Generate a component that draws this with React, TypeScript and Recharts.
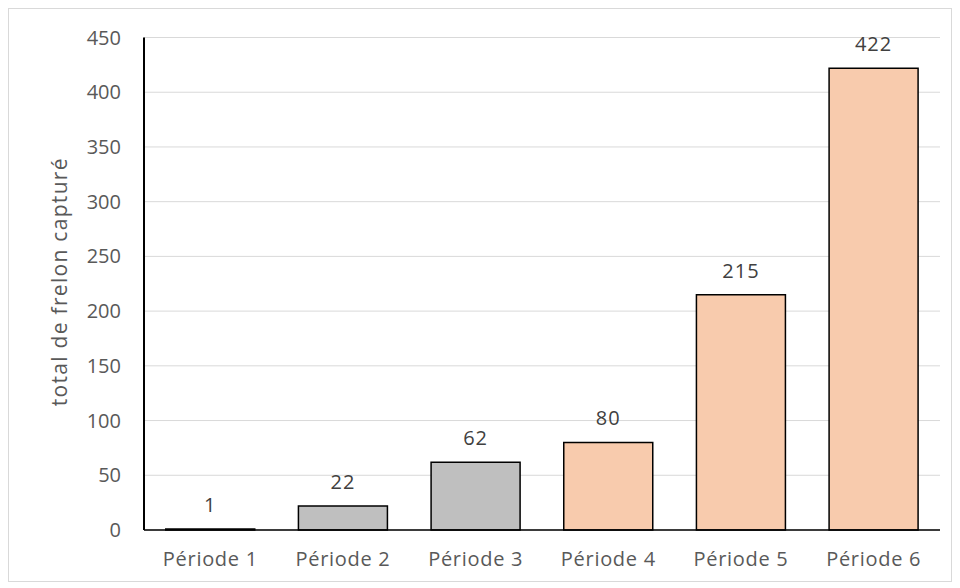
import React from 'react';
import { BarChart, Bar, XAxis, YAxis, CartesianGrid, Cell, LabelList } from 'recharts';

const categories = ['Période 1', 'Période 2', 'Période 3', 'Période 4', 'Période 5', 'Période 6'];
const values = [1, 22, 62, 80, 215, 422];
const colors = ['#bfbfbf', '#bfbfbf', '#bfbfbf', '#f8cbad', '#f8cbad', '#f8cbad'];
const yTicks = [0, 50, 100, 150, 200, 250, 300, 350, 400, 450];

const data = categories.map((c, i) => ({ name: c, value: values[i] }));

const font = '"Open Sans", Arial, sans-serif';

export default function App() {
  return (
    <div style={{ width: 942, height: 572, border: '1px solid #d9d9d9', fontFamily: font }}>
      <BarChart
        width={942}
        height={572}
        data={data}
        margin={{ top: 28.5, right: 11, bottom: 18, left: 0 }}
        barCategoryGap="16.4%"
      >
        <CartesianGrid horizontal vertical={false} stroke="#d9d9d9" strokeWidth={1} />
        <XAxis
          dataKey="name"
          axisLine={{ stroke: '#000', strokeWidth: 1.5 }}
          tickLine={false}
          tick={{ fill: '#595959', fontSize: 20, fontFamily: font, letterSpacing: 0.7 }}
          tickMargin={16}
          height={33}
        />
        <YAxis
          domain={[0, 450]}
          ticks={yTicks}
          interval={0}
          width={135}
          axisLine={{ stroke: '#000', strokeWidth: 2 }}
          tickLine={false}
          tickSize={0}
          tickMargin={23}
          tick={{ fill: '#595959', fontSize: 20, fontFamily: font }}
          label={{ value: 'total de frelon capturé', angle: -90, position: 'center', dx: -17, dy: -2, fill: '#595959', fontSize: 21, fontFamily: font, letterSpacing: 1.3 }}
        />
        <Bar dataKey="value" stroke="#000" strokeWidth={1.5} isAnimationActive={false}>
          {data.map((d, i) => (
            <Cell key={d.name} fill={colors[i]} />
          ))}
          <LabelList dataKey="value" position="top" offset={17} fill="#404040" fontSize={20} fontFamily={font} letterSpacing={1} />
        </Bar>
      </BarChart>
    </div>
  );
}
